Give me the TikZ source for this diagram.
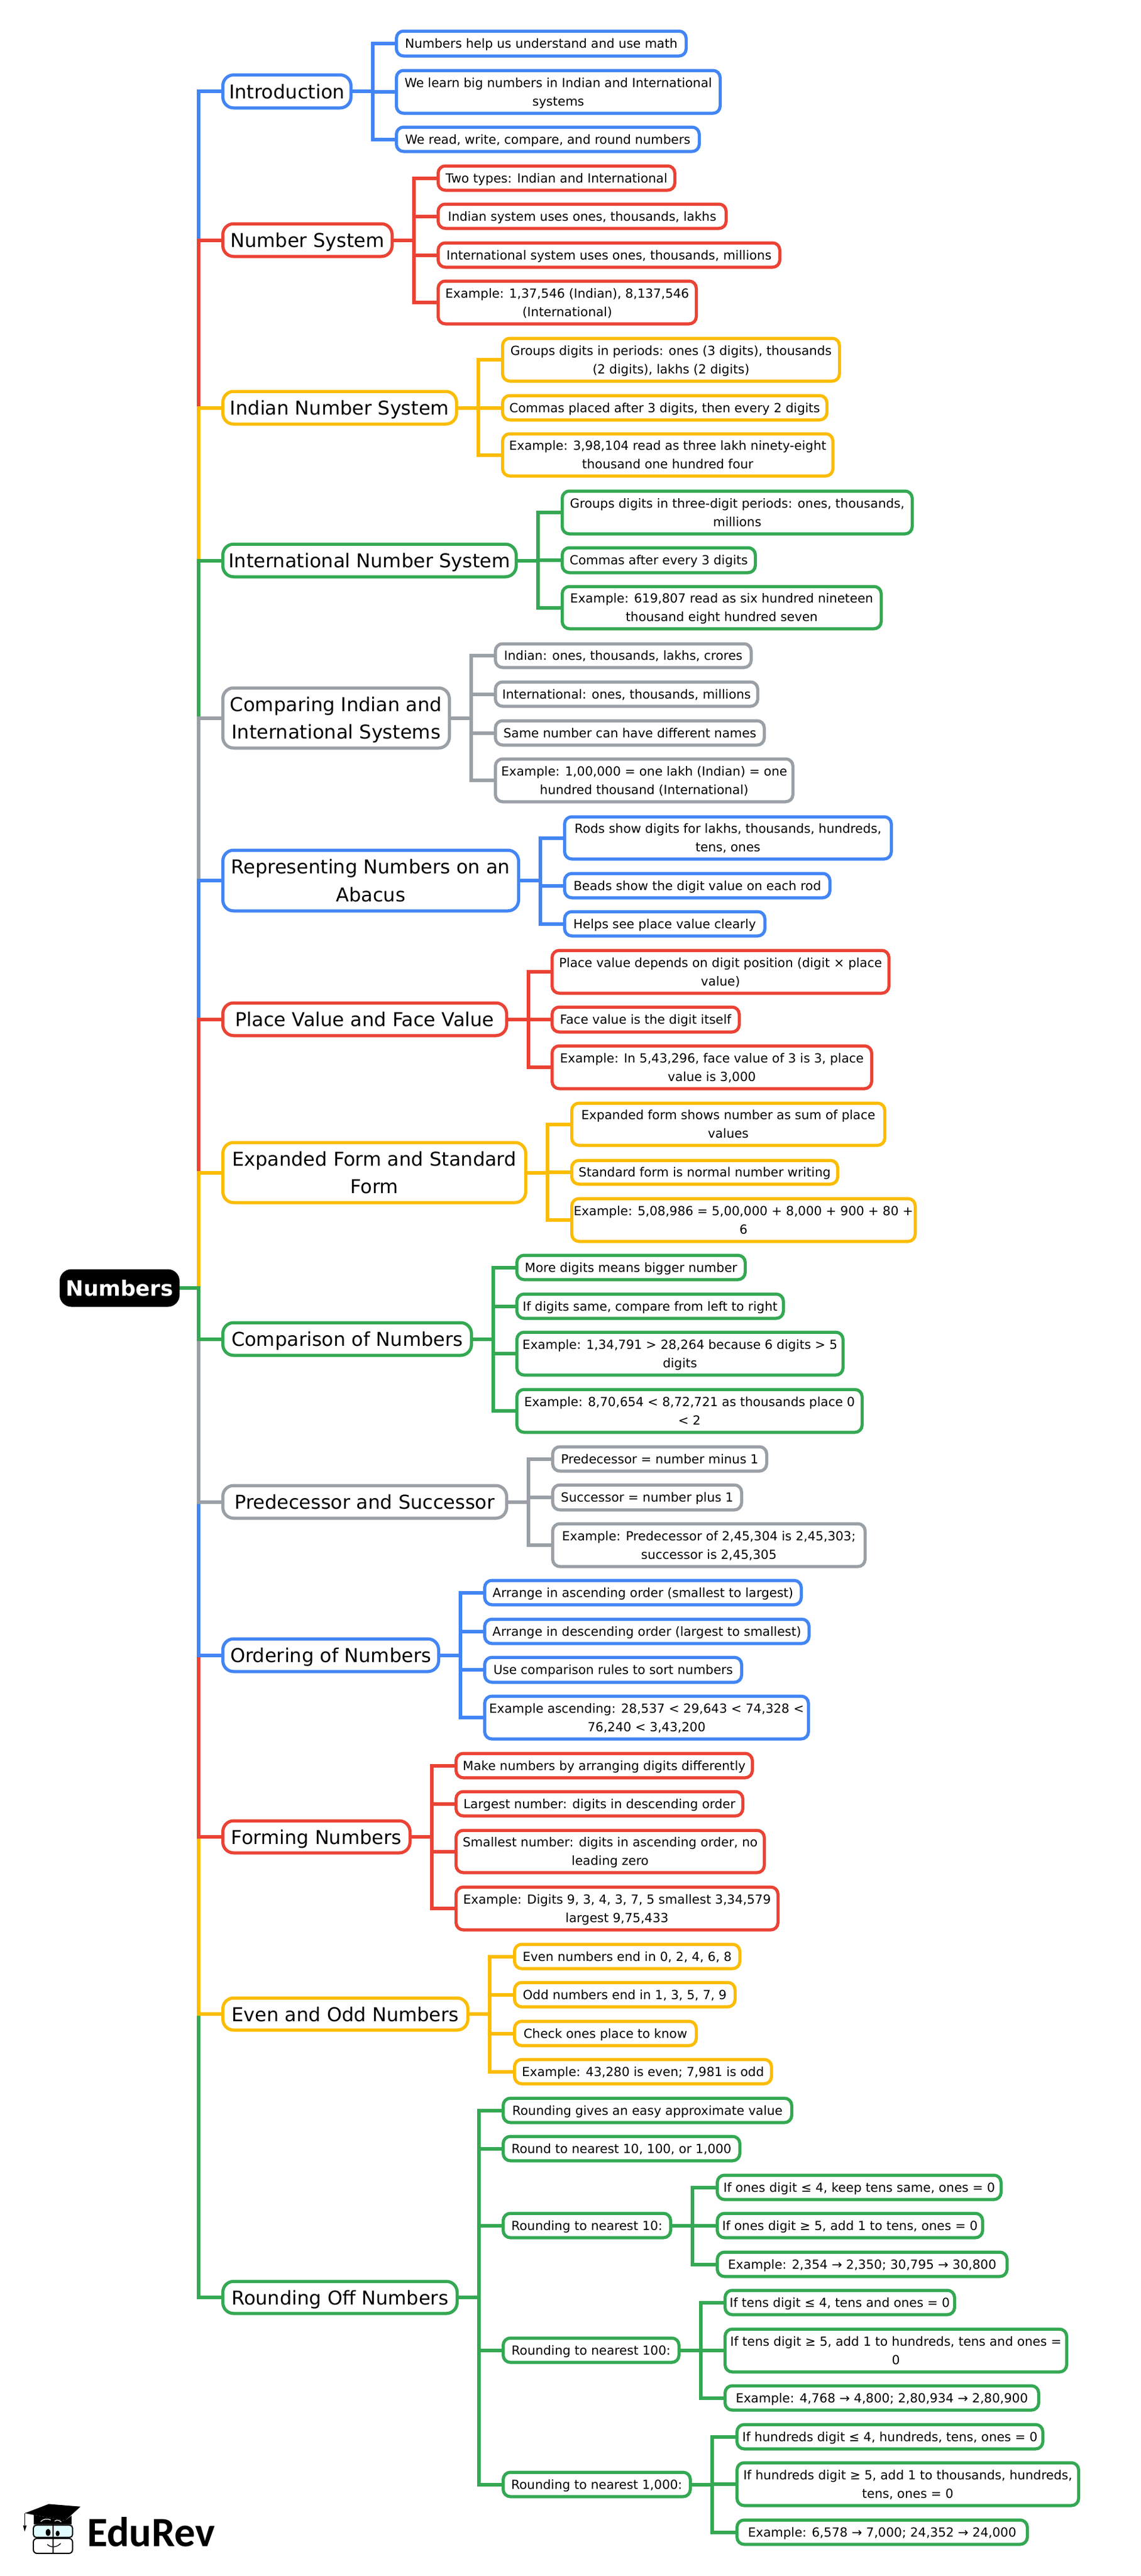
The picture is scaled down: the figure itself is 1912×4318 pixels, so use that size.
\documentclass[tikz,border=0pt]{standalone}
\usepackage{fontspec}
\setmainfont{DejaVu Sans}
\newfontfamily\logofont{Carlito}
\usetikzlibrary{backgrounds}
\definecolor{mBlue}{HTML}{4285F4}
\definecolor{mRed}{HTML}{EA4335}
\definecolor{mYellow}{HTML}{FBBC04}
\definecolor{mGreen}{HTML}{34A853}
\definecolor{mGray}{HTML}{9AA0A6}
\tikzset{
  basebox/.style={rectangle,fill=white,text=black,align=center,inner sep=0pt,outer sep=0pt,line width=5.25pt},
  rootbox/.style={basebox,fill=black,text=white,rounded corners=17pt,font=\fontsize{35.5}{46}\selectfont\bfseries},
  mainbox/.style={basebox,rounded corners=18pt,font=\fontsize{32}{46.5}\selectfont},
  leafbox/.style={basebox,rounded corners=12pt,font=\fontsize{21}{31}\selectfont},
  conn/.style={line width=6pt,line join=miter,line cap=butt}
}
\newcommand{\boxstrut}{\rule[-.25em]{0pt}{1.25em}}
\newcommand{\bx}[8]{%
  \pgfmathsetmacro\bw{#4-#2+2-5.25}\pgfmathsetmacro\bh{#5-#3+1-5.25}%
  \node[#6,draw=#7,minimum width=\bw pt,minimum height=\bh pt] (#1) at ({(#2+#4)/2},{(#3+#5)/2}) {\boxstrut#8\boxstrut};}
\newcommand{\lnk}[3]{\draw[conn,#3] (#1.east) -- ++(36.5,0) |- (#2.west);}
\newcommand{\trk}[2]{\draw[conn,#2] (root.east) -- ++(35,0) |- (#1.west);}
\begin{document}
\begin{tikzpicture}[x=1pt,y=-1pt]
\useasboundingbox (0,0) rectangle (1912,4318);
% root
\bx{root}{101}{2128}{300}{2190}{rootbox}{black}{Numbers}
% Introduction
\bx{intro}{372}{123.5}{590}{183}{mainbox}{mBlue}{Introduction}
\bx{introa}{663}{50}{1152}{96}{leafbox}{mBlue}{Numbers help us understand and use math}
\bx{introb}{663}{116}{1209}{192}{leafbox}{mBlue}{We learn big numbers in Indian and International\\systems}
\bx{introc}{663}{211}{1174}{256}{leafbox}{mBlue}{We read, write, compare, and round numbers}
% Number System
\bx{ns}{372}{373}{659}{432}{mainbox}{mRed}{Number System}
\bx{nsa}{733}{276}{1133}{321}{leafbox}{mRed}{Two types: Indian and International}
\bx{nsb}{733}{340}{1219}{385}{leafbox}{mRed}{Indian system uses ones, thousands, lakhs}
\bx{nsc}{733}{405}{1309}{450}{leafbox}{mRed}{International system uses ones, thousands, millions}
\bx{nsd}{733}{469}{1169}{545}{leafbox}{mRed}{Example: 1,37,546 (Indian), 8,137,546\\(International)}
% Indian
\bx{ind}{372}{654}{767}{713}{mainbox}{mYellow}{Indian Number System}
\bx{inda}{841}{565}{1409}{641}{leafbox}{mYellow}{Groups digits in periods: ones (3 digits), thousands\\(2 digits), lakhs (2 digits)}
\bx{indb}{841}{661}{1388}{706}{leafbox}{mYellow}{Commas placed after 3 digits, then every 2 digits}
\bx{indc}{841}{725}{1398}{800}{leafbox}{mYellow}{Example: 3,98,104 read as three lakh ninety-eight\\thousand one hundred four}
% International
\bx{intl}{372}{910}{867}{969}{mainbox}{mGreen}{International Number System}
\bx{intla}{941}{821}{1531}{897}{leafbox}{mGreen}{Groups digits in three-digit periods: ones, thousands,\\millions}
\bx{intlb}{941}{916}{1268}{962}{leafbox}{mGreen}{Commas after every 3 digits}
\bx{intlc}{941}{981}{1479}{1056}{leafbox}{mGreen}{Example: 619,807 read as six hundred nineteen\\thousand eight hundred seven}
% Comparing
\bx{cmp}{372}{1151}{755}{1256}{mainbox}{mGray}{Comparing Indian and\\International Systems}
\bx{cmpa}{829}{1077}{1261}{1121}{leafbox}{mGray}{Indian: ones, thousands, lakhs, crores}
\bx{cmpb}{829}{1141}{1272}{1186}{leafbox}{mGray}{International: ones, thousands, millions}
\bx{cmpc}{829}{1206}{1283}{1251}{leafbox}{mGray}{Same number can have different names}
\bx{cmpd}{829}{1270}{1331}{1346}{leafbox}{mGray}{Example: 1,00,000 = one lakh (Indian) = one\\hundred thousand (International)}
% Abacus
\bx{rep}{372}{1423}{871}{1529}{mainbox}{mBlue}{Representing Numbers on an\\Abacus}
\bx{repa}{945}{1367}{1496}{1442}{leafbox}{mBlue}{Rods show digits for lakhs, thousands, hundreds,\\tens, ones}
\bx{repb}{945}{1462}{1393}{1507}{leafbox}{mBlue}{Beads show the digit value on each rod}
\bx{repc}{945}{1526}{1284}{1571}{leafbox}{mBlue}{Helps see place value clearly}
% Place value
\bx{pv}{372}{1679}{851}{1738}{mainbox}{mRed}{Place Value and Face Value}
\bx{pva}{924}{1591}{1492}{1667}{leafbox}{mRed}{Place value depends on digit position (digit × place\\value)}
\bx{pvb}{924}{1686}{1241}{1732}{leafbox}{mRed}{Face value is the digit itself}
\bx{pvc}{924}{1751}{1463}{1827}{leafbox}{mRed}{Example: In 5,43,296, face value of 3 is 3, place\\value is 3,000}
% Expanded
\bx{exp}{372}{1913}{883}{2018}{mainbox}{mYellow}{Expanded Form and Standard\\Form}
\bx{expa}{957}{1847}{1485}{1922}{leafbox}{mYellow}{Expanded form shows number as sum of place\\values}
\bx{expb}{957}{1943}{1406}{1987}{leafbox}{mYellow}{Standard form is normal number writing}
\bx{expc}{957}{2007}{1536}{2083}{leafbox}{mYellow}{Example: 5,08,986 = 5,00,000 + 8,000 + 900 + 80 +\\6}
% Comparison
\bx{con}{372}{2215}{792}{2274}{mainbox}{mGreen}{Comparison of Numbers}
\bx{cona}{865}{2102}{1251}{2147}{leafbox}{mGreen}{More digits means bigger number}
\bx{conb}{865}{2167}{1315}{2212}{leafbox}{mGreen}{If digits same, compare from left to right}
\bx{conc}{865}{2231}{1415}{2307}{leafbox}{mGreen}{Example: 1,34,791 > 28,264 because 6 digits > 5\\digits}
\bx{cond}{865}{2327}{1447}{2403}{leafbox}{mGreen}{Example: 8,70,654 < 8,72,721 as thousands place 0\\< 2}
% Predecessor
\bx{pre}{372}{2488}{851}{2547}{mainbox}{mGray}{Predecessor and Successor}
\bx{prea}{925}{2423}{1287}{2468}{leafbox}{mGray}{Predecessor = number minus 1}
\bx{preb}{925}{2487}{1245}{2533}{leafbox}{mGray}{Successor = number plus 1}
\bx{prec}{925}{2552}{1452}{2628}{leafbox}{mGray}{Example: Predecessor of 2,45,304 is 2,45,303;\\successor is 2,45,305}
% Ordering
\bx{ord}{372}{2745}{737}{2804}{mainbox}{mBlue}{Ordering of Numbers}
\bx{orda}{811}{2647}{1345}{2692}{leafbox}{mBlue}{Arrange in ascending order (smallest to largest)}
\bx{ordb}{811}{2712}{1358}{2757}{leafbox}{mBlue}{Arrange in descending order (largest to smallest)}
\bx{ordc}{811}{2776}{1245}{2822}{leafbox}{mBlue}{Use comparison rules to sort numbers}
\bx{ordd}{811}{2841}{1357}{2917}{leafbox}{mBlue}{Example ascending: 28,537 < 29,643 < 74,328 <\\76,240 < 3,43,200}
% Forming
\bx{frm}{372}{3050}{689}{3108}{mainbox}{mRed}{Forming Numbers}
\bx{frma}{763}{2937}{1263}{2982}{leafbox}{mRed}{Make numbers by arranging digits differently}
\bx{frmb}{763}{3001}{1247}{3046}{leafbox}{mRed}{Largest number: digits in descending order}
\bx{frmc}{763}{3066}{1283}{3141}{leafbox}{mRed}{Smallest number: digits in ascending order, no\\leading zero}
\bx{frmd}{763}{3161}{1306}{3237}{leafbox}{mRed}{Example: Digits 9, 3, 4, 3, 7, 5 smallest 3,34,579\\largest 9,75,433}
% Even and odd
\bx{evn}{372}{3347}{786}{3405}{mainbox}{mYellow}{Even and Odd Numbers}
\bx{evna}{861}{3257}{1242}{3302}{leafbox}{mYellow}{Even numbers end in 0, 2, 4, 6, 8}
\bx{evnb}{861}{3321}{1234}{3366}{leafbox}{mYellow}{Odd numbers end in 1, 3, 5, 7, 9}
\bx{evnc}{861}{3386}{1169}{3431}{leafbox}{mYellow}{Check ones place to know}
\bx{evnd}{861}{3450}{1295}{3495}{leafbox}{mYellow}{Example: 43,280 is even; 7,981 is odd}
% Rounding
\bx{rnd}{372}{3822}{768}{3880}{mainbox}{mGreen}{Rounding Off Numbers}
\bx{rnda}{842}{3515}{1329}{3560}{leafbox}{mGreen}{Rounding gives an easy approximate value}
\bx{rndb}{842}{3579}{1242}{3624}{leafbox}{mGreen}{Round to nearest 10, 100, or 1,000}
\bx{rndc}{842}{3708}{1126}{3753}{leafbox}{mGreen}{Rounding to nearest 10:}
\bx{rndd}{842}{3917}{1140}{3962}{leafbox}{mGreen}{Rounding to nearest 100:}
\bx{rnde}{842}{4142}{1159}{4187}{leafbox}{mGreen}{Rounding to nearest 1,000:}
\bx{tena}{1201}{3644}{1680}{3689}{leafbox}{mGreen}{If ones digit ≤ 4, keep tens same, ones = 0}
\bx{tenb}{1201}{3708}{1649}{3753}{leafbox}{mGreen}{If ones digit ≥ 5, add 1 to tens, ones = 0}
\bx{tenc}{1201}{3773}{1690}{3818}{leafbox}{mGreen}{Example: 2,354 → 2,350; 30,795 → 30,800}
\bx{huna}{1214}{3837}{1602}{3882}{leafbox}{mGreen}{If tens digit ≤ 4, tens and ones = 0}
\bx{hunb}{1214}{3902}{1790}{3978}{leafbox}{mGreen}{If tens digit ≥ 5, add 1 to hundreds, tens and ones =\\0}
\bx{hunc}{1214}{3997}{1743}{4042}{leafbox}{mGreen}{Example: 4,768 → 4,800; 2,80,934 → 2,80,900}
\bx{thoa}{1234}{4062}{1750}{4107}{leafbox}{mGreen}{If hundreds digit ≤ 4, hundreds, tens, ones = 0}
\bx{thob}{1234}{4126}{1810}{4202}{leafbox}{mGreen}{If hundreds digit ≥ 5, add 1 to thousands, hundreds,\\tens, ones = 0}
\bx{thoc}{1234}{4222}{1724}{4267}{leafbox}{mGreen}{Example: 6,578 → 7,000; 24,352 → 24,000}
% connectors
\begin{scope}[on background layer]
\fill[white] (0,0) rectangle (1912,4318);
\foreach \a/\b/\c in {intro/introa/mBlue,intro/introb/mBlue,intro/introc/mBlue,
 ns/nsa/mRed,ns/nsb/mRed,ns/nsc/mRed,ns/nsd/mRed,
 ind/inda/mYellow,ind/indb/mYellow,ind/indc/mYellow,
 intl/intla/mGreen,intl/intlb/mGreen,intl/intlc/mGreen,
 cmp/cmpa/mGray,cmp/cmpb/mGray,cmp/cmpc/mGray,cmp/cmpd/mGray,
 rep/repa/mBlue,rep/repb/mBlue,rep/repc/mBlue,
 pv/pva/mRed,pv/pvb/mRed,pv/pvc/mRed,
 exp/expa/mYellow,exp/expb/mYellow,exp/expc/mYellow,
 con/cona/mGreen,con/conb/mGreen,con/conc/mGreen,con/cond/mGreen,
 pre/prea/mGray,pre/preb/mGray,pre/prec/mGray,
 ord/orda/mBlue,ord/ordb/mBlue,ord/ordc/mBlue,ord/ordd/mBlue,
 frm/frma/mRed,frm/frmb/mRed,frm/frmc/mRed,frm/frmd/mRed,
 evn/evna/mYellow,evn/evnb/mYellow,evn/evnc/mYellow,evn/evnd/mYellow,
 rnd/rnda/mGreen,rnd/rndb/mGreen,rnd/rndc/mGreen,rnd/rndd/mGreen,rnd/rnde/mGreen,
 rndc/tena/mGreen,rndc/tenb/mGreen,rndc/tenc/mGreen,
 rndd/huna/mGreen,rndd/hunb/mGreen,rndd/hunc/mGreen,
 rnde/thoa/mGreen,rnde/thob/mGreen,rnde/thoc/mGreen}
 {\lnk{\a}{\b}{\c}}
\foreach \a/\c in {intro/mBlue,ns/mRed,ind/mYellow,intl/mGreen,cmp/mGray,rep/mBlue,pv/mRed,exp/mYellow,
 rnd/mGreen,evn/mYellow,frm/mRed,ord/mBlue,pre/mGray,con/mGreen}
 {\trk{\a}{\c}}
\end{scope}
% logo
\begin{scope}[shift={(20,4200)},x=.3333pt,y=-.3333pt]
\fill[black] (110,47) -- (268,75) -- (300,50) -- (300,95) -- (110,95) -- cycle;
\fill[black] (65,38) -- (185,-8) -- (345,5) -- (268,75) -- (110,47) -- cycle;
\draw[black,line width=1.2pt] (65,38) -- (65,98);
\fill[black] (56,100) -- (74,100) -- (64,130) -- cycle;
\draw[white,line width=1.2pt] (145,80) .. controls (160,65) and (180,65) .. (195,72);
\draw[white,line width=1.2pt] (215,78) .. controls (225,70) and (238,72) .. (248,82);
\draw[black,fill=blue!10!cyan!12,line width=2pt,rounded corners=5pt] (108,98) rectangle (305,160);
\draw[black,line width=2pt,rounded corners=6pt] (108,165) rectangle (305,240);
\draw[black,line width=1.6pt] (207,90) -- (207,242);
\fill[black] (182,135) ellipse [x radius=12,y radius=18];
\fill[black] (230,140) ellipse [x radius=10,y radius=14];
\draw[black,line width=1.3pt] (178,195) .. controls (195,212) and (225,212) .. (245,190);
\end{scope}
\node[inner sep=0pt,outer sep=0pt,anchor=base west,text=black,font=\fontsize{70}{70}\selectfont\logofont\bfseries] (logo) at (146,4268) {EduRev};
\end{tikzpicture}
\end{document}
